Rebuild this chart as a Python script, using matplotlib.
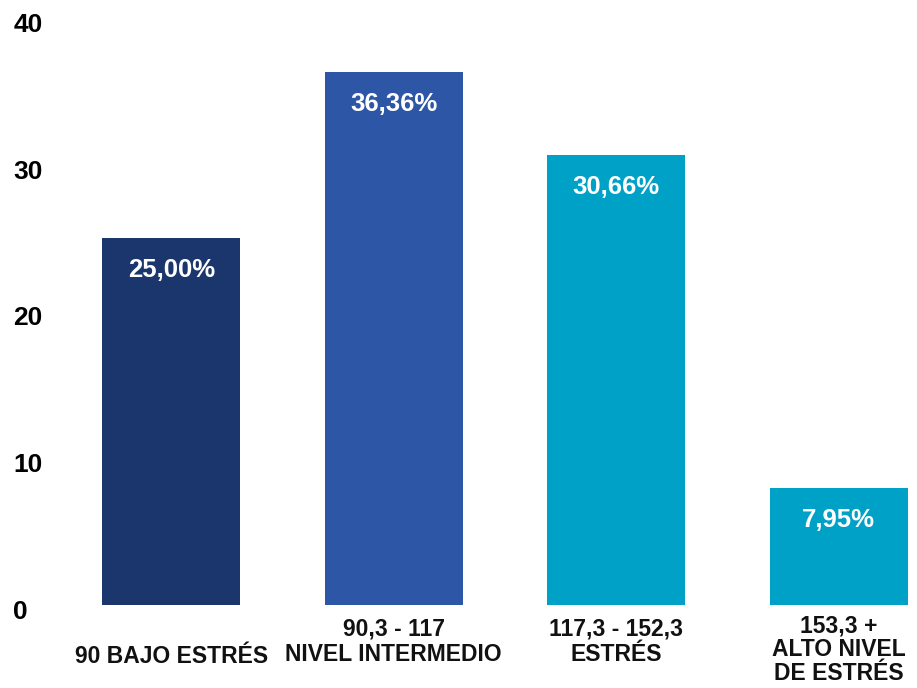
import matplotlib.pyplot as plt
import matplotlib.transforms as mtransforms

# stress level categories and share of respondents (%)
categories = ["90 BAJO ESTRÉS",
              "90,3 - 117\nNIVEL INTERMEDIO",
              "117,3 - 152,3\nESTRÉS",
              "153,3 +\nALTO NIVEL\nDE ESTRÉS"]
values = [25.00, 36.36, 30.66, 7.95]
value_labels = ["25,00%", "36,36%", "30,66%", "7,95%"]
bar_colors = ["#1b366d", "#2e56a6", "#00a1c7", "#00a1c7"]
y_ticks = [0, 10, 20, 30, 40]

plt.rcParams['font.family'] = ['Liberation Sans', 'DejaVu Sans']

fig = plt.figure(figsize=(9.17, 6.88), dpi=100)
W, H = 917, 688
# axes placed in pixels: left 80, right 912, bottom 605, top 11
ax = fig.add_axes([80 / W, (H - 605) / H, (912 - 80) / W, (605 - 11) / H])

x = list(range(len(categories)))
ax.bar(x, values, width=0.62, color=bar_colors)
ax.set_xlim(-0.41, 3.33)
ax.set_ylim(0, 40.5)

# value labels inside the top of each bar
for xi, v, lab in zip(x, values, value_labels):
    ax.annotate(lab, (xi, v), xytext=(0, -23), textcoords='offset points',
                ha='center', va='center', color='white',
                fontsize=18.5, fontweight='bold')

# category labels under the bars; spacing depends on line count
ax.set_xticks([])
offsets = {1: (-29, 1.0), 2: (-9, 1.14), 3: (-7, 1.04)}
for xi, lab in zip(x, categories):
    dy, ls = offsets[lab.count("\n") + 1]
    ax.annotate(lab, (xi, 0), xycoords=('data', 'axes fraction'),
                xytext=(0, dy), textcoords='offset points',
                ha='center', va='top', fontsize=16.5, fontweight='bold',
                linespacing=ls, color='#111111')

# y axis labels, left aligned
ax.set_yticks(y_ticks)
ax.tick_params(axis='y', length=0, pad=48, labelsize=19)
shift = mtransforms.ScaledTranslation(0, -3 / 72, fig.dpi_scale_trans)
for t in ax.get_yticklabels():
    t.set_ha('left')
    t.set_fontweight('bold')
    t.set_transform(t.get_transform() + shift)

for s in ax.spines.values():
    s.set_visible(False)

fig.savefig("out.png", dpi=100)
